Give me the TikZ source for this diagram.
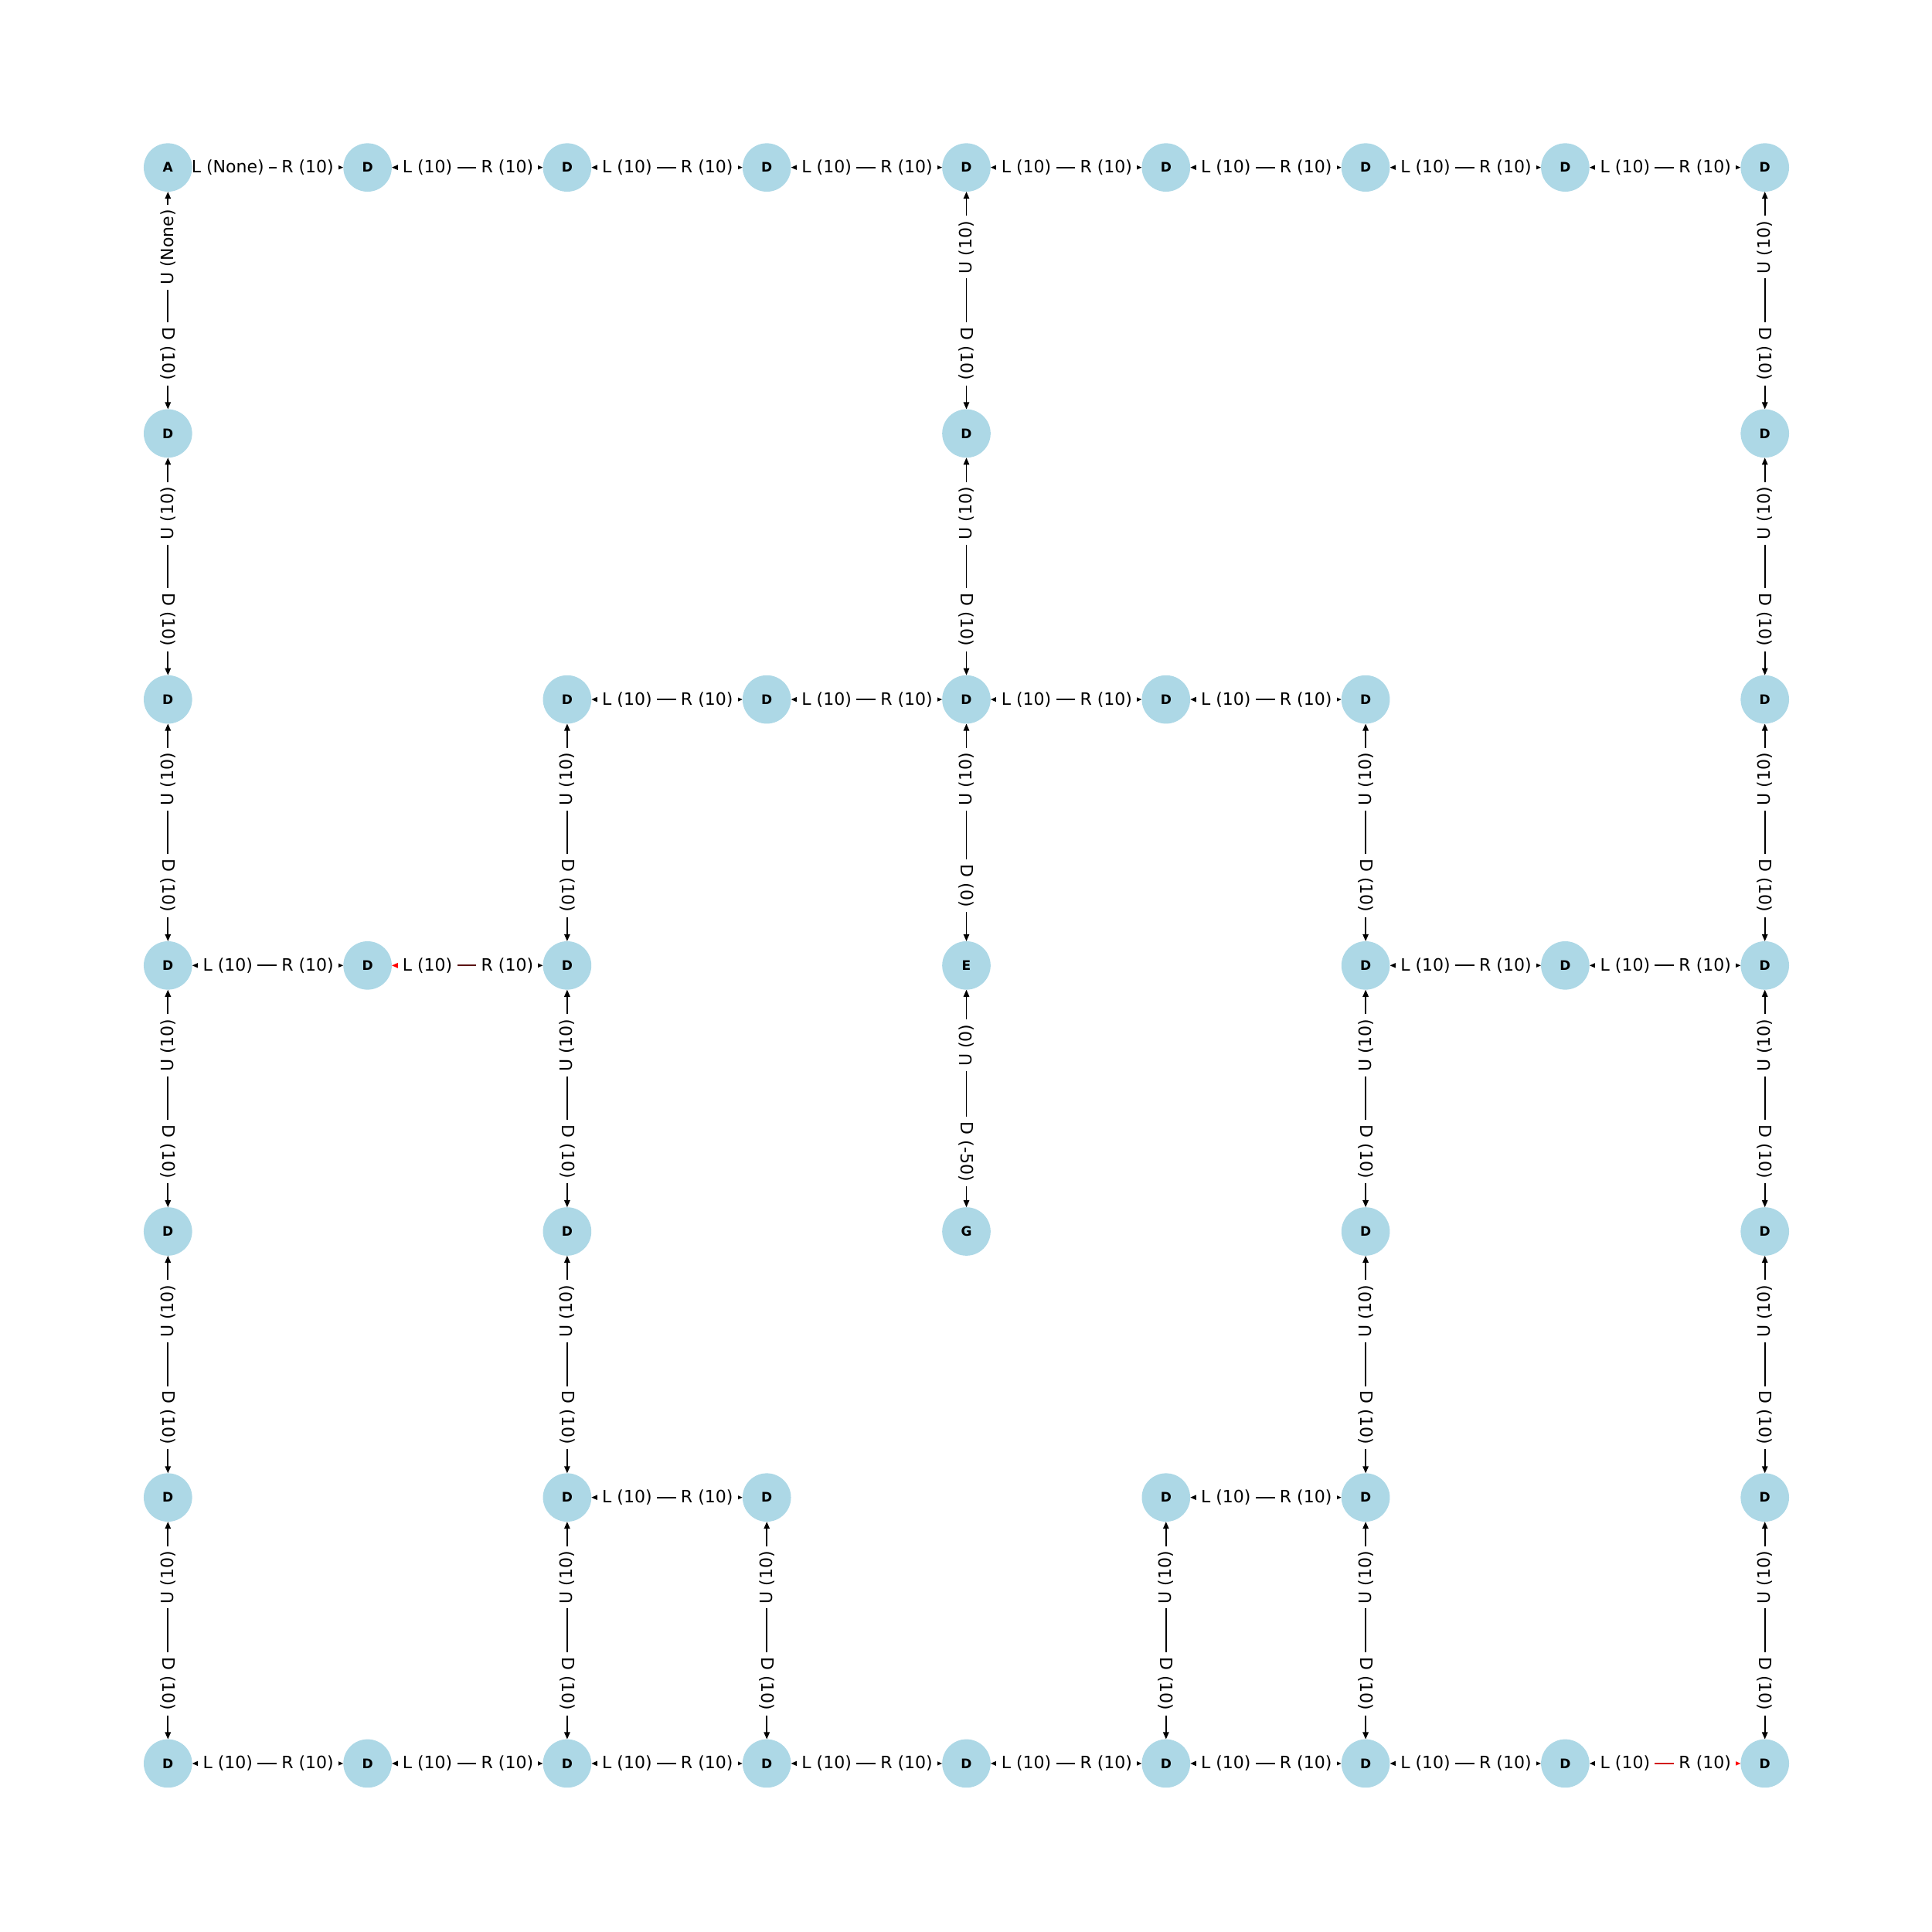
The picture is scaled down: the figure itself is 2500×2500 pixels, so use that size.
\documentclass[tikz,border=0pt]{standalone}
\usepackage{fontspec}
\setmainfont{DejaVu Sans}
\usetikzlibrary{arrows.meta,calc}
\pgfdeclarelayer{bg}
\pgfsetlayers{bg,main}
\definecolor{nodeblue}{HTML}{ADD8E6}
\definecolor{pathred}{RGB}{255,0,0}
\definecolor{mixred}{RGB}{90,18,18}
\definecolor{linered}{RGB}{210,20,20}
\tikzset{
  st/.style={circle, fill=nodeblue, minimum size=0.626cm, inner sep=0pt, outer sep=0pt,
    font=\fontsize{4.84}{5.5}\selectfont\bfseries},
  edge/.style={line width=0.5pt, draw=black,
    {Triangle[length=2.6pt,width=2.1pt]}-{Triangle[length=2.6pt,width=2.1pt]}},
  lbl/.style={fill=white, inner xsep=1.8pt, inner ysep=1pt, text=black,
    font=\fontsize{6.26}{7}\selectfont},
}
\newcommand\HE[5][]{%
  \draw[edge,#1] (#2) -- (#3);
  \path (#2.center) -- (#3.center) node[lbl,pos=0.3]{#4} node[lbl,pos=0.7]{#5};}
\newcommand\VE[5][]{%
  \draw[edge,#1] (#2) -- (#3);
  \path (#2.center) -- (#3.center) node[lbl,pos=0.3,rotate=90]{#4} node[lbl,pos=0.7,rotate=-90]{#5};}
\begin{document}
\begin{tikzpicture}[x=0.01cm,y=-0.01cm]
\useasboundingbox (0,0) rectangle (2500,2500);
% row 0
\node[st] (c0r0) at (217.3,216.7) {A};
\node[st] (c1r0) at (475.6,216.7) {D};
\node[st] (c2r0) at (733.9,216.7) {D};
\node[st] (c3r0) at (992.2,216.7) {D};
\node[st] (c4r0) at (1250.5,216.7) {D};
\node[st] (c5r0) at (1508.8,216.7) {D};
\node[st] (c6r0) at (1767.1,216.7) {D};
\node[st] (c7r0) at (2025.4,216.7) {D};
\node[st] (c8r0) at (2283.7,216.7) {D};
% row 1
\node[st] (c0r1) at (217.3,560.9) {D};
\node[st] (c4r1) at (1250.5,560.9) {D};
\node[st] (c8r1) at (2283.7,560.9) {D};
% row 2
\node[st] (c0r2) at (217.3,905.1) {D};
\node[st] (c2r2) at (733.9,905.1) {D};
\node[st] (c3r2) at (992.2,905.1) {D};
\node[st] (c4r2) at (1250.5,905.1) {D};
\node[st] (c5r2) at (1508.8,905.1) {D};
\node[st] (c6r2) at (1767.1,905.1) {D};
\node[st] (c8r2) at (2283.7,905.1) {D};
% row 3
\node[st] (c0r3) at (217.3,1249.3) {D};
\node[st] (c1r3) at (475.6,1249.3) {D};
\node[st] (c2r3) at (733.9,1249.3) {D};
\node[st] (c4r3) at (1250.5,1249.3) {E};
\node[st] (c6r3) at (1767.1,1249.3) {D};
\node[st] (c7r3) at (2025.4,1249.3) {D};
\node[st] (c8r3) at (2283.7,1249.3) {D};
% row 4
\node[st] (c0r4) at (217.3,1593.5) {D};
\node[st] (c2r4) at (733.9,1593.5) {D};
\node[st] (c4r4) at (1250.5,1593.5) {G};
\node[st] (c6r4) at (1767.1,1593.5) {D};
\node[st] (c8r4) at (2283.7,1593.5) {D};
% row 5
\node[st] (c0r5) at (217.3,1937.7) {D};
\node[st] (c2r5) at (733.9,1937.7) {D};
\node[st] (c3r5) at (992.2,1937.7) {D};
\node[st] (c5r5) at (1508.8,1937.7) {D};
\node[st] (c6r5) at (1767.1,1937.7) {D};
\node[st] (c8r5) at (2283.7,1937.7) {D};
% row 6
\node[st] (c0r6) at (217.3,2281.9) {D};
\node[st] (c1r6) at (475.6,2281.9) {D};
\node[st] (c2r6) at (733.9,2281.9) {D};
\node[st] (c3r6) at (992.2,2281.9) {D};
\node[st] (c4r6) at (1250.5,2281.9) {D};
\node[st] (c5r6) at (1508.8,2281.9) {D};
\node[st] (c6r6) at (1767.1,2281.9) {D};
\node[st] (c7r6) at (2025.4,2281.9) {D};
\node[st] (c8r6) at (2283.7,2281.9) {D};
\begin{pgfonlayer}{bg}
% horizontal edges
\HE{c0r0}{c1r0}{L (None)}{R (10)}
\HE{c1r0}{c2r0}{L (10)}{R (10)}
\HE{c2r0}{c3r0}{L (10)}{R (10)}
\HE{c3r0}{c4r0}{L (10)}{R (10)}
\HE{c4r0}{c5r0}{L (10)}{R (10)}
\HE{c5r0}{c6r0}{L (10)}{R (10)}
\HE{c6r0}{c7r0}{L (10)}{R (10)}
\HE{c7r0}{c8r0}{L (10)}{R (10)}
\HE{c2r2}{c3r2}{L (10)}{R (10)}
\HE{c3r2}{c4r2}{L (10)}{R (10)}
\HE{c4r2}{c5r2}{L (10)}{R (10)}
\HE{c5r2}{c6r2}{L (10)}{R (10)}
\HE{c0r3}{c1r3}{L (10)}{R (10)}
\HE[draw=mixred,{Triangle[length=2.6pt,width=2.1pt,color=pathred]}-{Triangle[length=2.6pt,width=2.1pt,color=black]}]{c1r3}{c2r3}{L (10)}{R (10)}
\HE{c6r3}{c7r3}{L (10)}{R (10)}
\HE{c7r3}{c8r3}{L (10)}{R (10)}
\HE{c2r5}{c3r5}{L (10)}{R (10)}
\HE{c5r5}{c6r5}{L (10)}{R (10)}
\HE{c0r6}{c1r6}{L (10)}{R (10)}
\HE{c1r6}{c2r6}{L (10)}{R (10)}
\HE{c2r6}{c3r6}{L (10)}{R (10)}
\HE{c3r6}{c4r6}{L (10)}{R (10)}
\HE{c4r6}{c5r6}{L (10)}{R (10)}
\HE{c5r6}{c6r6}{L (10)}{R (10)}
\HE{c6r6}{c7r6}{L (10)}{R (10)}
\HE[draw=linered,{Triangle[length=2.6pt,width=2.1pt,color=black]}-{Triangle[length=2.6pt,width=2.1pt,color=pathred]}]{c7r6}{c8r6}{L (10)}{R (10)}
% vertical edges
\VE{c0r0}{c0r1}{U (None)}{D (10)}
\VE{c0r1}{c0r2}{U (10)}{D (10)}
\VE{c0r2}{c0r3}{U (10)}{D (10)}
\VE{c0r3}{c0r4}{U (10)}{D (10)}
\VE{c0r4}{c0r5}{U (10)}{D (10)}
\VE{c0r5}{c0r6}{U (10)}{D (10)}
\VE{c2r2}{c2r3}{U (10)}{D (10)}
\VE{c2r3}{c2r4}{U (10)}{D (10)}
\VE{c2r4}{c2r5}{U (10)}{D (10)}
\VE{c2r5}{c2r6}{U (10)}{D (10)}
\VE{c3r5}{c3r6}{U (10)}{D (10)}
\VE{c4r0}{c4r1}{U (10)}{D (10)}
\VE{c4r1}{c4r2}{U (10)}{D (10)}
\VE{c4r2}{c4r3}{U (10)}{D (0)}
\VE{c4r3}{c4r4}{U (0)}{D (-50)}
\VE{c5r5}{c5r6}{U (10)}{D (10)}
\VE{c6r2}{c6r3}{U (10)}{D (10)}
\VE{c6r3}{c6r4}{U (10)}{D (10)}
\VE{c6r4}{c6r5}{U (10)}{D (10)}
\VE{c6r5}{c6r6}{U (10)}{D (10)}
\VE{c8r0}{c8r1}{U (10)}{D (10)}
\VE{c8r1}{c8r2}{U (10)}{D (10)}
\VE{c8r2}{c8r3}{U (10)}{D (10)}
\VE{c8r3}{c8r4}{U (10)}{D (10)}
\VE{c8r4}{c8r5}{U (10)}{D (10)}
\VE{c8r5}{c8r6}{U (10)}{D (10)}
\end{pgfonlayer}
\end{tikzpicture}
\end{document}
